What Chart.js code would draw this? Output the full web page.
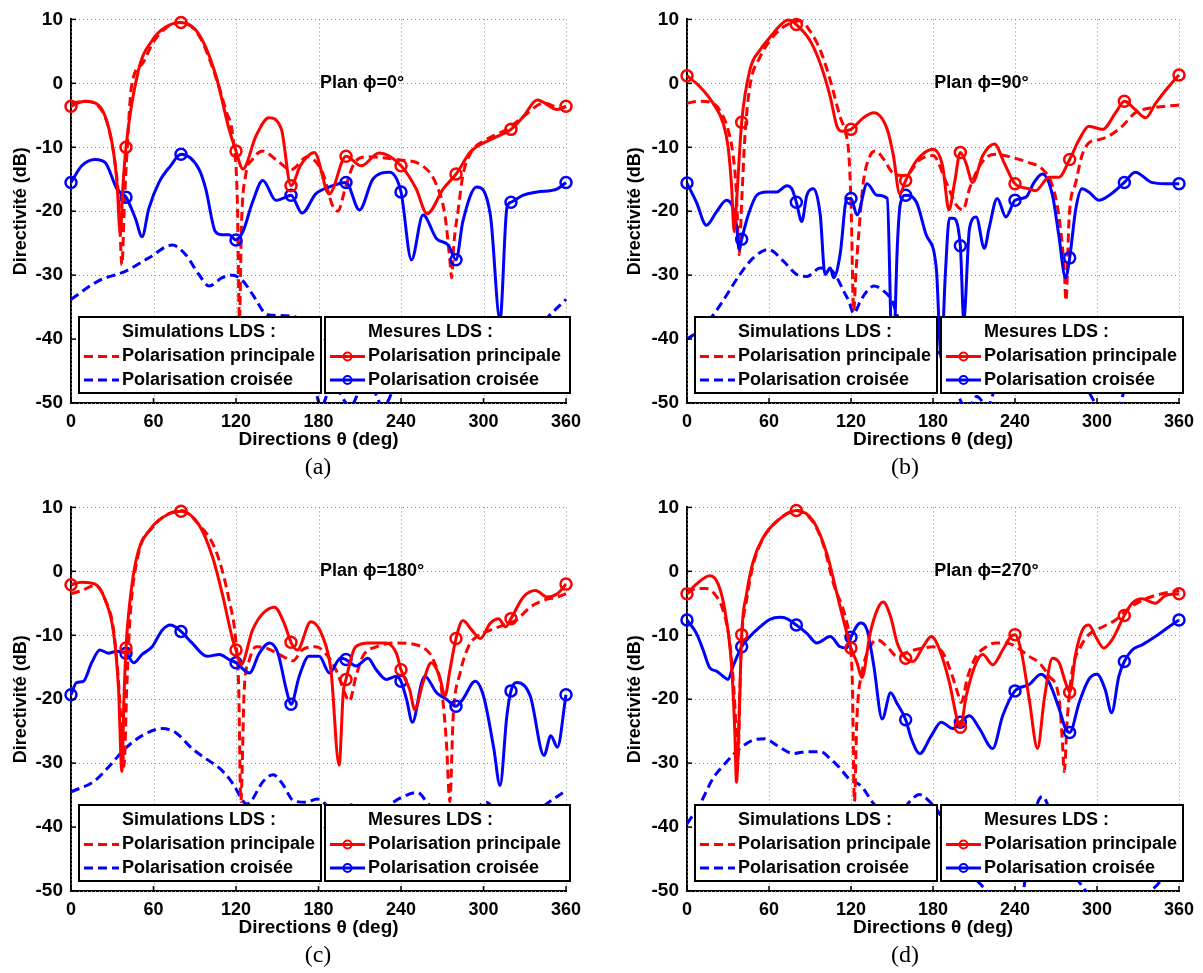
<!DOCTYPE html>
<html>
<head>
<meta charset="utf-8">
<script src="https://cdn.jsdelivr.net/npm/chart.js@4/dist/chart.umd.min.js"></script>
<style>
body { margin: 0; background: #fff; }
#fig { position: relative; width: 1203px; height: 973px; overflow: hidden; background: #fff; }
canvas { position: absolute; }
.cap { position: absolute; font-family: 'Liberation Serif', 'Times New Roman', serif; font-size: 24px; color: #000; transform: translate(-50%, -50%); }
</style>
</head>
<body>
<div id="fig">
  <canvas id="cA" width="600" height="480" style="left:0;top:0;width:600px;height:480px"></canvas>
  <canvas id="cB" width="603" height="480" style="left:600px;top:0;width:603px;height:480px"></canvas>
  <canvas id="cC" width="600" height="480" style="left:0;top:488px;width:600px;height:480px"></canvas>
  <canvas id="cD" width="603" height="480" style="left:600px;top:488px;width:603px;height:480px"></canvas>
  <div class="cap" style="left:318px;top:466px">(a)</div>
  <div class="cap" style="left:905px;top:466px">(b)</div>
  <div class="cap" style="left:318px;top:954px">(c)</div>
  <div class="cap" style="left:905px;top:954px">(d)</div>
</div>
<script>
// axes
const thetaTicks = [0, 60, 120, 180, 240, 300, 360];
const dbTicks = [-50, -40, -30, -20, -10, 0, 10];
const planLabels = ['Plan ϕ=0°', 'Plan ϕ=90°', 'Plan ϕ=180°', 'Plan ϕ=270°'];
const legendTitles = ['Simulations LDS :', 'Mesures LDS :'];
const seriesNames = ['Polarisation principale', 'Polarisation croisée'];

// (a) plan phi=0  -- [theta (deg), directivite (dB)]
const aSimMain = [[0,-3.1],[10,-2.8],[20,-3.6],[27,-6.7],[32,-12.4],[35,-19],[37,-28.4],[39,-18],[40.7,-10.8],[44,-0.5],[52,3.1],[60,6.5],[70,8.8],[80,9.5],[93,7.5],[105,1.2],[113,-4.5],[117.6,-8.2],[121,-18.5],[122.5,-37],[124,-22],[127,-14.4],[132,-11.9],[139.5,-10.6],[149,-11.9],[160,-13.5],[172,-11.5],[183,-14],[190,-19],[194,-20],[200,-16],[206,-12.5],[215,-11.5],[240,-12],[255,-12.8],[265,-15.5],[272,-20.7],[275.6,-27.8],[276.8,-30.4],[278.5,-25],[281.7,-19.6],[285,-14.4],[291,-10.8],[302,-8.8],[317,-7.2],[329,-5.2],[344,-3.1],[356,-3.9],[360,-3.6]];
const aSimCross = [[0,-33.8],[20,-30.9],[39.5,-29.4],[56.6,-27.3],[73.7,-25.3],[83.4,-26.8],[93,-29.9],[100.5,-31.7],[110,-30.4],[117.6,-30],[125,-30.9],[132,-33],[143,-36.2],[160,-36.4],[168,-38],[175,-45],[182,-50.5],[190,-47],[203,-50.5],[215,-46],[227,-50.5],[240,-45],[260,-42],[280,-40],[295,-38],[303,-36.5],[320,-40],[338,-38.5],[347,-36.5],[360,-33.8]];
const aMesMain = [[0,-3.6],[10,-2.8],[20,-3.4],[29.8,-9.3],[33.4,-15.5],[35.9,-23.7],[37.5,-17],[40,-10],[49,2],[59,6.7],[68.8,8.8],[80,9.5],[93,7.7],[105,1.5],[115,-7.2],[120,-10.6],[125,-13.4],[134.6,-8.2],[144,-5.4],[153,-7.2],[160,-16],[167,-12.8],[177,-10.8],[187.8,-17.3],[200,-11.4],[211,-12.9],[224,-10.9],[240,-12.9],[251,-16.5],[259,-20.4],[270.7,-16.5],[280,-14.2],[291,-10.6],[305,-8.8],[320,-7.2],[329,-5.2],[339,-2.6],[353.7,-4.1],[360,-3.6]];
const aMesCross = [[0,-15.5],[7.8,-12.9],[17.6,-11.9],[24.9,-12.4],[33.4,-16.5],[40,-17.8],[46.8,-21.1],[51.7,-24],[56.6,-19.6],[64,-15.5],[72.4,-12.9],[80,-11.1],[93,-13.4],[98,-16.5],[105,-23.2],[110,-23.7],[115,-23.7],[120,-24.5],[125,-23.2],[132,-18.6],[139.5,-15.2],[149,-18.3],[154,-18],[160,-17.5],[168,-20.3],[178,-17.3],[188,-16.2],[200,-15.5],[209.8,-19.8],[219.5,-15],[231.7,-13.9],[240,-17],[247.6,-27.6],[256,-20.6],[265.9,-24.3],[274.4,-25.3],[280,-27.6],[285,-21.6],[295,-16.2],[305,-20.6],[312,-37],[317,-19.5],[320,-18.6],[329,-17.5],[339,-17],[353.7,-16.5],[360,-15.5]];

// (b) plan phi=90
const bSimMain = [[0,-3.1],[9.3,-2.8],[19,-3.1],[25,-4.6],[30,-7.2],[33.8,-11.3],[36,-16.5],[38.2,-26.8],[40,-18.6],[42.4,-8.2],[46,-0.5],[53.4,4.1],[60.7,6.7],[70.5,8.8],[82.8,9.8],[90,8.2],[97.5,5.2],[104.8,0.5],[112,-5.2],[116,-7.7],[118.3,-10.8],[120,-18.6],[122,-35.6],[123.5,-30],[125.6,-23.7],[129,-15.5],[134,-11.3],[138,-10.6],[144,-11.9],[150,-13.9],[156,-14.4],[160,-14.4],[170,-12],[180,-11.3],[189.7,-15.5],[197,-19],[201.9,-19.8],[206.7,-16.5],[212.8,-13.4],[219,-11.6],[226,-11.1],[238,-11.6],[250,-12.4],[260,-13.4],[267.4,-16],[272,-20.6],[276,-28.9],[277.3,-34],[279.6,-21],[284.5,-15.5],[289,-11.3],[294,-9.3],[301.5,-8.8],[309,-8.2],[318.5,-6.7],[328,-4.6],[337.9,-3.9],[350,-3.6],[360,-3.4]];
const bSimCross = [[0,-40],[10,-38.5],[20,-36],[26.4,-34],[38.7,-29.9],[48.5,-27.3],[59.5,-26],[70.5,-27.8],[80.3,-29.9],[87.7,-30.2],[97.5,-28.9],[104.8,-29.1],[109.7,-30.4],[114.6,-32.5],[118.3,-34],[122,-36],[127,-34],[131.8,-32.5],[136.7,-31.7],[144,-32.5],[150,-34],[155,-37],[165,-41],[175,-45],[185,-42],[195,-47],[205,-51],[212,-49],[220,-50.5],[230,-44],[250,-42],[270,-44],[290,-47],[302,-51],[312,-52],[325,-45],[345,-42],[360,-40]];
const bMesMain = [[0,1.2],[9.3,-0.5],[19,-3.1],[26.4,-6.2],[30,-9.8],[32.6,-16],[34.5,-23.2],[36.2,-18.6],[40,-6.1],[46,2.1],[53.4,5.2],[60.7,7.2],[69.3,9.3],[74,9.9],[80,9.2],[90,6.7],[97.5,3.1],[104.8,-2.1],[109.7,-6.7],[113.4,-7.5],[120,-7.2],[129,-5.4],[136.7,-4.6],[146.5,-7.2],[151,-11.3],[155.7,-17.3],[160,-15.2],[167.9,-12.1],[180,-10.3],[187,-12.9],[191.7,-19.8],[195.8,-15.5],[200,-10.8],[204,-12.4],[209,-15.5],[216.4,-11.3],[225,-9.5],[232,-12.4],[240,-15.7],[250.4,-16.5],[255,-16.8],[265,-14.7],[272,-14.7],[280,-11.9],[287,-8.8],[294,-6.7],[304,-7.2],[313.6,-4.6],[320,-2.8],[328,-4.1],[335.5,-5.4],[343,-3.1],[352.5,-0.5],[360,1.3]];
const bMesCross = [[0,-15.6],[6.9,-18.6],[14.2,-22.2],[21.6,-20.1],[28.9,-18.3],[33.8,-19.6],[36.2,-22.2],[38.2,-26],[40,-24.4],[44.8,-20.6],[51,-17.5],[58.3,-17],[65.6,-17],[73,-16],[76.7,-16.5],[80,-18.6],[84,-21.6],[87.7,-17.5],[92.6,-16.5],[97.5,-20.6],[101,-29.9],[104.8,-28.9],[107.3,-30.4],[112,-26.8],[117,-18],[120,-18],[124.4,-20.6],[131.8,-15.7],[139,-17.5],[146.5,-18],[150.5,-45],[154,-25],[156,-19],[160,-17.5],[167.9,-18.6],[175,-23.7],[182.4,-28.9],[186,-43],[189,-30],[192,-21.1],[194.6,-21.1],[200,-25.4],[202.5,-37],[206.7,-22.7],[211.6,-20.9],[217.6,-25.8],[221,-22.7],[227,-18],[233.4,-20.9],[240,-18.3],[248,-17.8],[254,-15.5],[260,-14.2],[267.4,-17.5],[272,-23.7],[277,-30.4],[280,-27.3],[284.5,-19.6],[289,-16.5],[294,-17],[301.5,-18.3],[309,-17.5],[320,-15.5],[328,-13.9],[340,-15.5],[350,-15.7],[360,-15.7]];

// (c) plan phi=180
const cSimMain = [[0,-3.5],[8,-3],[17.6,-2.2],[25,-4.5],[31,-9.2],[34.6,-17.4],[37.5,-27.7],[38.5,-30.5],[40.7,-17.4],[43,-7.1],[49,2.7],[59,6.8],[70,8.9],[80,9.5],[93,7.3],[105.4,3.2],[115,-4.5],[120,-11.2],[122,-18.5],[123.5,-36],[126,-18.5],[129.8,-13.8],[134.6,-11.8],[142,-12],[154,-13.3],[161.5,-14],[168,-12.3],[178,-11.8],[185,-12.8],[192.7,-15.4],[200,-19.5],[202.4,-20.3],[207.3,-16.4],[212.2,-13.3],[222,-11.8],[236.6,-11.2],[251,-11.5],[258.5,-12.3],[263.4,-13.8],[269.5,-18.5],[273,-26.7],[275.5,-36],[278,-22.6],[283,-15.9],[289,-11.8],[295,-10.2],[305,-9.2],[314.6,-8.4],[324,-7.6],[334,-5.6],[344,-4.5],[353.7,-4],[360,-3.5]];
const cSimCross = [[0,-34.5],[17,-32.8],[27.3,-30.6],[39.5,-27.7],[51.7,-25.7],[66.3,-24.6],[76,-25.2],[88,-27.7],[98,-29.3],[108,-30.8],[115,-32.4],[118,-33.3],[128,-36.4],[140,-32.8],[147,-31.8],[154,-33.3],[162,-35.9],[171,-36.1],[179,-35.6],[185,-36.4],[192,-38],[205,-36.5],[215,-38],[228,-37],[240,-35.4],[252,-34.6],[260,-36.4],[275,-39],[290,-38],[302,-36.1],[315,-39],[335,-38],[349,-35.9],[360,-34.3]];
const cMesMain = [[0,-2.1],[7.8,-1.7],[17.6,-2],[24.9,-4.5],[31,-9.7],[34.6,-18.5],[37,-31.3],[38.5,-20],[40,-12],[44.4,-2],[49,3.2],[56.6,6.3],[66.3,8.4],[80,9.4],[93,7.3],[103,2.2],[110,-3.5],[117.6,-10.7],[120,-12.3],[123.7,-14.6],[132,-9.2],[139.5,-6.6],[148,-5.6],[155,-8.1],[160,-11.1],[164.6,-12.3],[174.4,-7.9],[183,-10.2],[189,-15.4],[195,-30.3],[198,-19],[200,-16.9],[207,-11.8],[217,-11.2],[229,-11.2],[236.6,-12.8],[240,-15.4],[246.3,-18.5],[250,-21.6],[256,-17.4],[262,-14.3],[268,-16.4],[272,-19.5],[275.6,-15.4],[280,-10.5],[285,-7.7],[291.5,-9.2],[297.6,-10.5],[305,-8.1],[311,-7.4],[316,-8.7],[320,-7.4],[329,-4],[338,-3],[346,-4],[353.7,-3.5],[360,-2]];
const cMesCross = [[0,-19.3],[4,-17.4],[9,-17.2],[15,-14.3],[21,-12.3],[27,-12.8],[33.4,-12.5],[40,-12.8],[45.6,-14.3],[51.7,-13],[59,-11.8],[66.3,-9.2],[72.4,-8.4],[76,-8.7],[80,-9.4],[88,-11.2],[99,-13.3],[108,-13],[115,-13.8],[120,-14.3],[129.8,-15.9],[137,-12.8],[144.4,-11.2],[150.5,-12.8],[156.6,-18.5],[160,-20.8],[166,-16.4],[173,-13.3],[180.5,-13.3],[188,-15.9],[196,-13.6],[200,-13.8],[207.3,-14.8],[216,-13.6],[222,-15.4],[229.3,-16.9],[236.6,-16.4],[240,-17.2],[244,-20],[248.3,-23.6],[255,-17.4],[257.3,-16.4],[265.9,-19],[273,-20],[280,-21.1],[285,-20],[294,-17.2],[300,-19.5],[307.5,-27.7],[312,-33.5],[317,-22.6],[320,-18.7],[324,-17.4],[334,-19.5],[344,-28.8],[349,-25.7],[353.7,-27.5],[360,-19.3]];

// (d) plan phi=270
const dSimMain = [[0,-3.5],[7,-2.7],[14,-2.7],[20,-3.5],[26.4,-6.1],[31.3,-11.2],[34.3,-18.5],[36.5,-26.7],[37.5,-29],[38.5,-20],[40,-10.7],[43.6,-4.5],[48.5,1.1],[55.8,5.2],[65.6,7.8],[80,9.5],[92.6,7.6],[100,4],[107.3,-2],[115.8,-7.1],[119,-10.7],[121,-17.4],[122.5,-36],[124.4,-22.6],[128,-15.9],[134,-11.8],[139,-10.7],[146.5,-11.8],[153.8,-13.3],[163,-12.5],[172.7,-12],[180,-11.8],[187.3,-12.8],[193.4,-15.9],[198,-19],[200.6,-20.5],[205.5,-16.4],[211.6,-13.3],[219,-11.8],[226,-11.2],[233.8,-11.2],[240.7,-11.8],[250.4,-13.3],[257.7,-14.3],[265,-16.4],[272.3,-20],[274.7,-26.7],[276,-31.3],[278.4,-22.6],[282,-15.4],[288,-11.8],[294,-9.9],[304,-8.7],[313.6,-7.6],[323.3,-5.8],[335.5,-4.3],[347.6,-3.5],[360,-3]];
const dSimCross = [[0,-39.5],[10,-36.2],[19,-32.4],[29,-29.8],[38.7,-27.7],[48.5,-26.4],[57,-26.2],[65.6,-27.2],[78,-28.5],[87.7,-28.2],[97.5,-28.2],[104.8,-29.3],[112,-30.8],[118.3,-32.4],[128,-33.7],[136,-36.2],[145,-38],[155,-38],[163,-36],[170,-34.9],[176,-35.7],[185,-38],[200,-45],[215,-49],[225,-51],[235,-52.5],[245,-51],[252,-40],[260,-35.2],[268,-39],[280,-46],[288,-48.9],[298,-51.5],[310,-53],[325,-52],[336,-50.5],[350,-47],[360,-39.5]];
const dMesMain = [[0,-3.5],[6.9,-2],[16.7,-0.7],[22.8,-2],[27.7,-6.1],[32.6,-14.8],[35,-25.2],[36.2,-33],[38.2,-22.6],[40,-9.9],[43.6,-3.5],[48.5,1.6],[55.8,5.3],[65.6,7.8],[80,9.5],[92.6,7.8],[102.4,2.7],[109.7,-3.5],[115.8,-8.7],[120,-12],[124.4,-14.3],[128,-16.6],[134,-9.7],[139,-6.1],[143.5,-4.8],[149,-7.1],[153.8,-11.2],[160,-13.6],[165.4,-14.1],[172.7,-11.8],[178.8,-10.2],[184.9,-12.3],[192,-17.4],[198.2,-23.6],[200,-24.4],[204.3,-19.5],[211.6,-14.3],[216.4,-13],[223.7,-14.6],[231,-12.3],[237,-10.2],[240,-9.9],[244.4,-12.3],[250.4,-20],[256.5,-27.7],[261.4,-20],[267.4,-13.6],[272.3,-14.3],[277,-17.4],[280,-18.9],[284.5,-12.8],[289.3,-9.2],[294,-8.4],[299,-10.2],[305,-12],[311,-10.7],[320,-6.9],[325.7,-5],[333,-4.3],[342.7,-5],[350,-3.8],[360,-3.5]];
const dMesCross = [[0,-7.6],[6.9,-9.7],[11.8,-12.3],[16.7,-15.1],[21.6,-15.6],[26.4,-16.4],[30,-16.9],[33.8,-14.8],[40,-11.8],[46,-10.2],[53.4,-8.7],[60.7,-7.5],[68,-7.2],[73,-7.4],[80,-8.4],[87.7,-9.7],[95,-11.2],[104.8,-10.2],[112,-11.8],[117,-12],[120,-10.3],[126.9,-8.1],[131.8,-9.2],[136.7,-14.8],[142.8,-23.1],[149,-19],[153.3,-20.5],[160,-23.2],[164.2,-26.2],[170.3,-28.5],[178.8,-25.7],[186,-23.6],[194.6,-24.6],[200,-23.6],[206.7,-22.6],[214,-24.6],[223.7,-27.7],[231,-22.6],[240,-18.7],[250.4,-17.7],[259,-16.1],[265,-17.4],[272.3,-21.5],[277,-24.6],[280,-25.2],[287,-20.5],[294,-16.9],[300,-16.1],[306,-18.5],[310.7,-22.1],[316,-16.4],[320,-14.1],[325.7,-12.3],[333,-11.5],[342.7,-10.2],[352.4,-8.7],[360,-7.6]];

const RED = '#ff0000';
const BLUE = '#0000ff';
const FONT = "'Liberation Sans', Arial, Helvetica, sans-serif";

Chart.defaults.font.family = FONT;
Chart.defaults.font.size = 18;
Chart.defaults.font.weight = 'bold';
Chart.defaults.color = '#000';

function serie(pairs, color, dashed) {
  return {
    data: pairs.map(p => ({ x: p[0], y: p[1] })),
    borderColor: color,
    backgroundColor: color,
    borderWidth: 3,
    borderDash: dashed ? [9, 5] : [],
    cubicInterpolationMode: 'monotone',
    fill: false,
    // cercles des mesures tous les 40 deg
    pointRadius: dashed ? 0 : (c => (c.raw && c.raw.x % 40 === 0 ? 5.5 : 0)),
    pointHoverRadius: 0,
    pointBorderColor: color,
    pointBackgroundColor: 'rgba(0,0,0,0)',
    pointBorderWidth: 2.5,
    clip: { left: 10, right: 10, top: 10, bottom: 0 }
  };
}

// grille pointillee, petits traits internes, legende LDS et texte du plan
const decor = {
  id: 'decor',
  beforeDatasetsDraw(chart) {
    const { ctx, chartArea: ca, scales: { x, y } } = chart;
    ctx.save();
    ctx.strokeStyle = '#8a8a8a';
    ctx.lineWidth = 1;
    ctx.setLineDash([1, 3]);
    thetaTicks.forEach(t => {
      const px = Math.round(x.getPixelForValue(t)) + 0.5;
      ctx.beginPath(); ctx.moveTo(px, ca.top); ctx.lineTo(px, ca.bottom); ctx.stroke();
    });
    dbTicks.forEach(d => {
      const py = Math.round(y.getPixelForValue(d)) + 0.5;
      ctx.beginPath(); ctx.moveTo(ca.left, py); ctx.lineTo(ca.right, py); ctx.stroke();
    });
    ctx.restore();
  },
  afterDatasetsDraw(chart, args, opts) {
    const { ctx, chartArea: ca, scales: { x, y } } = chart;
    ctx.save();
    // traits de graduation vers l'interieur
    ctx.strokeStyle = '#000';
    ctx.lineWidth = 1.5;
    thetaTicks.forEach(t => {
      const px = x.getPixelForValue(t);
      ctx.beginPath(); ctx.moveTo(px, ca.bottom); ctx.lineTo(px, ca.bottom - 5); ctx.stroke();
    });
    dbTicks.forEach(d => {
      const py = y.getPixelForValue(d);
      ctx.beginPath(); ctx.moveTo(ca.left, py); ctx.lineTo(ca.left + 5, py); ctx.stroke();
    });

    // texte "Plan phi=..."
    ctx.fillStyle = '#000';
    ctx.font = 'bold 18px ' + FONT;
    ctx.textAlign = 'left';
    ctx.textBaseline = 'middle';
    ctx.fillText(opts.plan, x.getPixelForValue(181), y.getPixelForValue(0));

    // deux cadres de legende
    const top = ca.bottom - 86, h = 76;
    const boxes = [
      { x: ca.left + 8, w: 242, title: legendTitles[0], dashed: true },
      { x: ca.left + 254, w: ca.right + 4 - (ca.left + 254), title: legendTitles[1], dashed: false }
    ];
    boxes.forEach(b => {
      ctx.setLineDash([]);
      ctx.fillStyle = '#fff';
      ctx.fillRect(b.x, top, b.w, h);
      ctx.strokeStyle = '#000';
      ctx.lineWidth = 2;
      ctx.strokeRect(b.x, top, b.w, h);
      ctx.fillStyle = '#000';
      ctx.font = 'bold 18px ' + FONT;
      ctx.textBaseline = 'middle';
      ctx.fillText(b.title, b.x + 43, top + 15);
      [RED, BLUE].forEach((col, i) => {
        const ry = top + 39.5 + i * 23.5;
        ctx.strokeStyle = col;
        ctx.lineWidth = 3;
        ctx.setLineDash(b.dashed ? [9, 5] : []);
        ctx.beginPath(); ctx.moveTo(b.x + 5, ry); ctx.lineTo(b.x + 40, ry); ctx.stroke();
        if (!b.dashed) {
          ctx.setLineDash([]);
          ctx.lineWidth = 2;
          ctx.beginPath(); ctx.arc(b.x + 22.5, ry, 4, 0, Math.PI * 2); ctx.stroke();
        }
        ctx.fillStyle = '#000';
        ctx.fillText(seriesNames[i], b.x + 43, ry);
      });
    });
    ctx.restore();
  }
};

function drawPanel(id, simMain, simCross, mesMain, mesCross, plan, padRight, yWidth, yTitlePad) {
  new Chart(document.getElementById(id), {
    type: 'line',
    data: {
      datasets: [
        serie(mesMain, RED, false),
        serie(mesCross, BLUE, false),
        serie(simMain, RED, true),
        serie(simCross, BLUE, true)
      ]
    },
    options: {
      responsive: false,
      animation: false,
      devicePixelRatio: 1,
      events: [],
      layout: { padding: { top: 15, right: padRight, left: 0, bottom: 0 } },
      plugins: {
        legend: { display: false },
        tooltip: { enabled: false },
        decor: { plan: plan }
      },
      scales: {
        x: {
          type: 'linear', min: 0, max: 360,
          afterBuildTicks: s => { s.ticks = thetaTicks.map(v => ({ value: v })); },
          afterFit: s => { s.height = 77; },
          grid: { display: false, drawTicks: false },
          border: { display: true, color: '#000', width: 2 },
          ticks: { padding: 8, maxRotation: 0, autoSkip: false },
          title: { display: true, text: 'Directions θ (deg)', font: { size: 19 }, padding: { top: 0, bottom: 29 } }
        },
        y: {
          type: 'linear', min: -50, max: 10,
          afterBuildTicks: s => { s.ticks = dbTicks.map(v => ({ value: v })); },
          afterFit: s => { s.width = yWidth; },
          grid: { display: false, drawTicks: false },
          border: { display: true, color: '#000', width: 2 },
          ticks: { padding: 8, autoSkip: false, font: { size: 19 } },
          title: { display: true, text: 'Directivité (dB)', padding: { top: yTitlePad, bottom: 0 } }
        }
      }
    },
    plugins: [decor]
  });
}

drawPanel('cA', aSimMain, aSimCross, aMesMain, aMesCross, planLabels[0], 34, 71, 10);
drawPanel('cB', bSimMain, bSimCross, bMesMain, bMesCross, planLabels[1], 24, 87, 24);
drawPanel('cC', cSimMain, cSimCross, cMesMain, cMesCross, planLabels[2], 34, 71, 10);
drawPanel('cD', dSimMain, dSimCross, dMesMain, dMesCross, planLabels[3], 24, 87, 24);
</script>
</body>
</html>
